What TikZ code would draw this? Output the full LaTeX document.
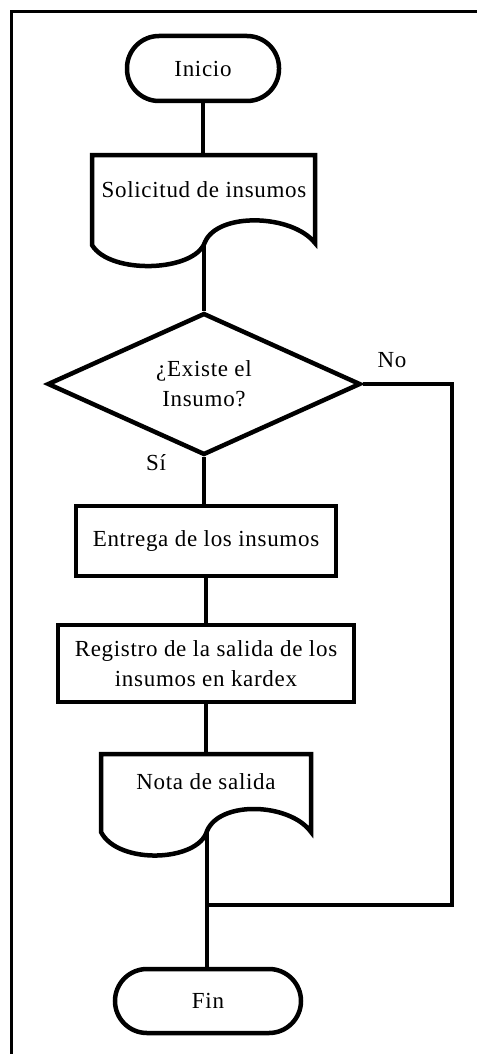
\documentclass[tikz,border=0pt]{standalone}
\usepackage{fontspec}
\setmainfont{Liberation Serif}[LetterSpace=3]
\usetikzlibrary{shapes.geometric}
\begin{document}
\begin{tikzpicture}[x=1pt,y=-1pt,
  line width=4.5pt, line join=miter,
  every node/.style={font=\fontsize{23}{30}\selectfont, inner sep=0pt},
  term/.style={draw, rectangle, rounded corners=32pt},
  proc/.style={draw, rectangle, align=center},
  dec/.style={draw, diamond, align=center},
  frame/.style={line width=2.5pt},
  conn/.style={line width=4.5pt}]
\useasboundingbox (0,0) rectangle (477,1054);
% frame
\draw[frame] (11.5,1054) -- (11.5,11.5) -- (477,11.5);
% nodes
\node[term, minimum width=152pt, minimum height=65pt] (ini) at (203,68.5) {Inicio};
% Solicitud document
\draw (92,155) -- (315,155) -- (315,243)
  .. controls (292,214) and (218,212) .. (205,242)
  .. controls (195,272) and (110,275) .. (92,245) -- cycle;
\coordinate (solin) at (203,155);
\coordinate (solout) at (204,244);
\node (sol) at (204,190) {Solicitud de insumos};
% decision
\node[dec, minimum width=313pt, minimum height=140pt] (dec) at (204,384) {¿Existe el\\Insumo?};
\node (no) at (392,360) {No};
\node (si) at (156,463) {Sí};
% process boxes
\node[proc, minimum width=260pt, minimum height=70pt] (ent) at (206,541) {Entrega de los insumos};
\node[proc, minimum width=296pt, minimum height=77pt] (reg) at (206,663.5) {Registro de la salida de los\\insumos en kardex};
% Nota document
\draw (101,754) -- (311,754) -- (311,832)
  .. controls (290,803) and (220,800) .. (207,831)
  .. controls (198,862) and (118,865) .. (101,832) -- cycle;
\coordinate (notin) at (206,754);
\coordinate (notout) at (207,833);
\node (nota) at (206,782) {Nota de salida};
% Fin
\node[term, minimum width=186pt, minimum height=64pt] (fin) at (208,1001) {Fin};
\coordinate (join) at (207,905);
\coordinate (rc) at (452,384);
% connectors
\draw[conn] (ini.south) -- (ini.south |- solin);
\draw[conn] (solout) -- (solout |- dec.north);
\draw[conn] (dec.south) -- (dec.south |- ent.north);
\draw[conn] (ent.south) -- (reg.north);
\draw[conn] (reg.south) -- (notin);
\draw[conn] (notout) -- (notout |- fin.north);
\draw[conn] (dec.east) -- (rc) -- (rc |- join) -- (join);
\end{tikzpicture}
\end{document}
